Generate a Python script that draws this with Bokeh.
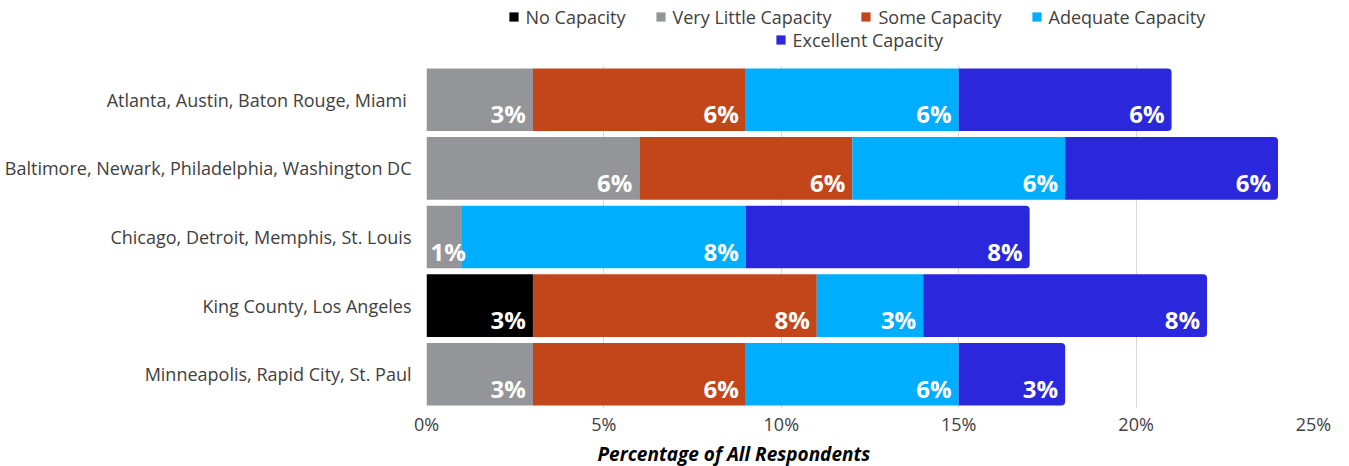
import numpy as np
from bokeh.plotting import figure
from bokeh.layouts import column
from bokeh.models import (ColumnDataSource, FactorRange, Range1d, Legend, LegendItem,
                          Title, FixedTicker, PrintfTickFormatter)
from bokeh.core.properties import value
from bokeh.embed import file_html
from bokeh.resources import INLINE

categories = [
    "Atlanta, Austin,  Baton Rouge, Miami",
    "Baltimore, Newark, Philadelphia, Washington DC",
    "Chicago, Detroit, Memphis, St. Louis",
    "King County, Los Angeles",
    "Minneapolis, Rapid City, St. Paul",
]
series_names = ["No Capacity", "Very Little Capacity", "Some Capacity",
                "Adequate Capacity", "Excellent Capacity"]
no_capacity = [0, 0, 0, 3, 0]
very_little = [3, 6, 1, 0, 3]
some_capacity = [6, 6, 0, 8, 6]
adequate = [6, 6, 8, 3, 6]
excellent = [6, 6, 8, 8, 3]
x_ticks = [0, 5, 10, 15, 20, 25]
x_title = "Percentage of All Respondents"

colors = ["#000000", "#939598", "#c3461a", "#00aeff", "#2a27dd"]
series = [no_capacity, very_little, some_capacity, adequate, excellent]

FONT = "Open Sans"
W = 1345
LEG_H = 65

# ---------------- legend strip ----------------
lg = figure(width=W, height=LEG_H, output_backend="svg", toolbar_location=None,
            x_range=Range1d(0, 1), y_range=Range1d(0, 1),
            x_axis_type=None, y_axis_type=None,
            min_border_left=0, min_border_right=0, min_border_top=0,
            min_border_bottom=0)
lg.outline_line_color = None
lg.grid.visible = False

items = []
for name, col in zip(series_names, colors):
    r = lg.scatter(x=[np.nan], y=[np.nan], marker="square", fill_color=col,
                   line_color=None)
    items.append(LegendItem(label=name, renderers=[r]))


def make_legend(its, loc):
    return Legend(items=its, location=loc, orientation="horizontal",
                  glyph_width=25, glyph_height=23, label_height=23,
                  label_standoff=0, spacing=22, padding=0, margin=0,
                  border_line_color=None, background_fill_alpha=0,
                  label_text_font=FONT, label_text_font_size="18px",
                  label_text_color="#404040")


# locations are relative to the (aligned) plot area's lower-left corner
lg.add_layout(make_legend(items[:4], (74.5, 36.5)))
lg.add_layout(make_legend(items[4:], (341.5, 13.5)))

# ---------------- main chart ----------------
p = figure(width=W, height=466 - LEG_H, output_backend="svg", toolbar_location=None,
           y_range=FactorRange(*reversed(categories)), x_range=Range1d(0, 25),
           min_border_left=426, min_border_right=32, min_border_top=0,
           min_border_bottom=56)
p.outline_line_color = None
p.background_fill_color = "white"

p.ygrid.grid_line_color = None
p.xgrid.grid_line_color = "#d9d9d9"
p.xgrid.grid_line_width = 1
p.xgrid.ticker = FixedTicker(ticks=x_ticks)

left = np.zeros(len(categories))
lab_x, lab_y, lab_t, lab_align, lab_off = [], [], [], [], []
for i, (vals, col) in enumerate(zip(series, colors)):
    vals = np.array(vals, dtype=float)
    right = left + vals
    src = ColumnDataSource(dict(y=categories, left=left.copy(), right=right.copy()))
    kw = {}
    if i == len(series) - 1:
        kw["border_radius"] = (0, 4, 4, 0)
    p.hbar(y="y", left="left", right="right", height=0.913, source=src,
           fill_color=col, line_color=None, **kw)
    for c, v, l, r in zip(categories, vals, left, right):
        if v > 0:
            lab_y.append(c)
            lab_t.append(f"{int(v)}%")
            if v < 2:  # segment too narrow: keep label inside the bar start
                lab_x.append(l)
                lab_align.append("left")
                lab_off.append(4)
            else:
                lab_x.append(r)
                lab_align.append("right")
                lab_off.append(-7)
    left = right

lab_src = ColumnDataSource(dict(x=lab_x, y=lab_y, t=lab_t, a=lab_align, o=lab_off))
p.text(x="x", y="y", text="t", source=lab_src, text_align="a",
       text_baseline="alphabetic", x_offset="o", y_offset=14,
       text_color="white", text_font=value(FONT), text_font_style="bold",
       text_font_size="24px")

p.xaxis.ticker = FixedTicker(ticks=x_ticks)
p.xaxis.formatter = PrintfTickFormatter(format="%d%%")
p.xaxis.axis_line_color = None
p.xaxis.major_tick_line_color = None
p.xaxis.minor_tick_line_color = None
p.xaxis.major_tick_out = 0
p.xaxis.major_tick_in = 0
p.xaxis.minor_tick_out = 0
p.xaxis.major_label_standoff = 3
p.xaxis.major_label_text_font = FONT
p.xaxis.major_label_text_font_size = "18px"
p.xaxis.major_label_text_color = "#404040"

p.yaxis.axis_line_color = None
p.yaxis.major_tick_line_color = None
p.yaxis.minor_tick_line_color = None
p.yaxis.major_tick_out = 0
p.yaxis.major_tick_in = 0
p.yaxis.minor_tick_out = 0
p.yaxis.major_label_standoff = 15
p.yaxis.major_label_text_font = FONT
p.yaxis.major_label_text_font_size = "18px"
p.yaxis.major_label_text_color = "#404040"

p.add_layout(Title(text=x_title, align="left", offset=171, standoff=0,
                   text_font=FONT, text_font_style="bold italic",
                   text_font_size="19px", text_color="#000000"), "below")

layout = column(lg, p, spacing=0)
open("out.html", "w").write(file_html(layout, INLINE))
